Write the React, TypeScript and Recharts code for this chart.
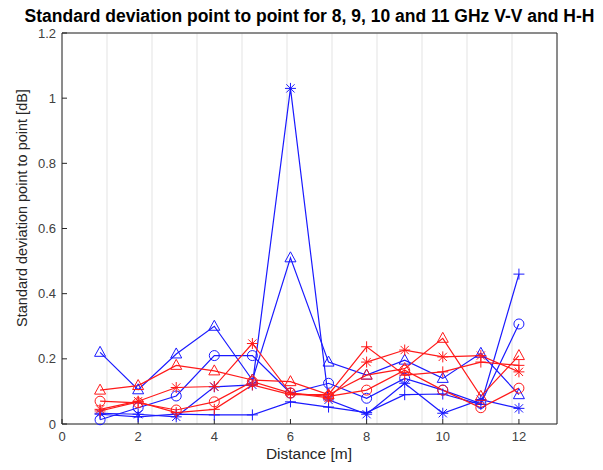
import React from "react"
import { LineChart, Line, XAxis, YAxis, CartesianGrid } from "recharts"

// distance in metres
const distance = [1, 2, 3, 4, 5, 6, 7, 8, 9, 10, 11, 12]

// V-V (blue)
const vvPlus = [0.03, 0.022, 0.03, 0.028, 0.028, 0.068, 0.052, 0.035, 0.09, 0.092, 0.06, 0.46]
const vvCircle = [0.013, 0.05, 0.086, 0.21, 0.21, 0.095, 0.125, 0.079, 0.14, 0.104, 0.063, 0.307]
const vvStar = [0.033, 0.03, 0.022, 0.114, 0.12, 1.03, 0.074, 0.03, 0.125, 0.033, 0.075, 0.048]
const vvTriangle = [0.22, 0.105, 0.215, 0.3, 0.135, 0.51, 0.19, 0.15, 0.196, 0.14, 0.217, 0.09]

// H-H (red)
const hhPlus = [0.04, 0.068, 0.035, 0.045, 0.12, 0.09, 0.09, 0.237, 0.15, 0.16, 0.19, 0.18]
const hhCircle = [0.07, 0.065, 0.043, 0.068, 0.13, 0.095, 0.085, 0.104, 0.165, 0.104, 0.05, 0.11]
const hhStar = [0.045, 0.07, 0.112, 0.115, 0.247, 0.095, 0.08, 0.19, 0.227, 0.206, 0.21, 0.16]
const hhTriangle = [0.104, 0.118, 0.18, 0.163, 0.135, 0.13, 0.09, 0.15, 0.17, 0.263, 0.085, 0.21]

const xTicks = [0, 2, 4, 6, 8, 10, 12]
const yTicks = [0, 0.2, 0.4, 0.6, 0.8, 1, 1.2]

const BLUE = "#1a1aff"
const RED = "#ff1a1a"
const AXIS = "#262626"
const FONT = "'Liberation Sans', Arial, Helvetica, sans-serif"

const data = distance.map((d, i) => ({
  d,
  vvPlus: vvPlus[i],
  vvCircle: vvCircle[i],
  vvStar: vvStar[i],
  vvTriangle: vvTriangle[i],
  hhPlus: hhPlus[i],
  hhCircle: hhCircle[i],
  hhStar: hhStar[i],
  hhTriangle: hhTriangle[i],
}))

const marker = (shape: string, color: string) => (props: any) => {
  const { cx, cy, key } = props
  if (cx == null || cy == null) return <g key={key} />
  const s = 5.5
  if (shape === "circle") {
    return <circle key={key} cx={cx} cy={cy} r={5} fill="none" stroke={color} strokeWidth={1} />
  }
  if (shape === "triangle") {
    const pts = `${cx},${cy - 6} ${cx - 5.5},${cy + 4} ${cx + 5.5},${cy + 4}`
    return <polygon key={key} points={pts} fill="none" stroke={color} strokeWidth={1} />
  }
  if (shape === "plus") {
    return (
      <g key={key} stroke={color} strokeWidth={1}>
        <line x1={cx - s} y1={cy} x2={cx + s} y2={cy} />
        <line x1={cx} y1={cy - s} x2={cx} y2={cy + s} />
      </g>
    )
  }
  const d = s * 0.75
  return (
    <g key={key} stroke={color} strokeWidth={1}>
      <line x1={cx - s} y1={cy} x2={cx + s} y2={cy} />
      <line x1={cx} y1={cy - s} x2={cx} y2={cy + s} />
      <line x1={cx - d} y1={cy - d} x2={cx + d} y2={cy + d} />
      <line x1={cx - d} y1={cy + d} x2={cx + d} y2={cy - d} />
    </g>
  )
}

const series = [
  { key: "vvPlus", color: BLUE, shape: "plus" },
  { key: "vvCircle", color: BLUE, shape: "circle" },
  { key: "vvStar", color: BLUE, shape: "star" },
  { key: "vvTriangle", color: BLUE, shape: "triangle" },
  { key: "hhPlus", color: RED, shape: "plus" },
  { key: "hhCircle", color: RED, shape: "circle" },
  { key: "hhStar", color: RED, shape: "star" },
  { key: "hhTriangle", color: RED, shape: "triangle" },
]

const tickStyle = { fill: "#404040", fontSize: 13, fontFamily: FONT }

export default function App() {
  return (
    <div style={{ position: "relative", width: 595, height: 462, background: "#fff", fontFamily: FONT }}>
      <div
        style={{
          position: "absolute",
          top: -2,
          left: 0,
          width: 603,
          textAlign: "center",
          fontWeight: "bold",
          fontSize: 17.5,
          color: "#000",
        }}
      >
        Standard deviation point to point for 8, 9, 10 and 11 GHz V-V and H-H
      </div>
      <div
        style={{
          position: "absolute",
          left: 14,
          top: 200,
          transform: "translate(-50%, -50%) rotate(-90deg)",
          whiteSpace: "nowrap",
          fontSize: 14.5,
          color: AXIS,
        }}
      >
        Standard deviation point to point [dB]
      </div>
      <div
        style={{
          position: "absolute",
          left: 301,
          top: 446,
          transform: "translate(-50%, -50%)",
          whiteSpace: "nowrap",
          fontSize: 15.5,
          color: AXIS,
        }}
      >
        Distance [m]
      </div>
      <LineChart width={595} height={462} data={data} margin={{ top: 24, right: 45, left: 10, bottom: 16 }}>
        <CartesianGrid stroke="#e3e3e3" strokeWidth={1} />
        <XAxis
          xAxisId="b"
          dataKey="d"
          type="number"
          domain={[0, 13]}
          ticks={xTicks}
          height={30}
          stroke={AXIS}
          tickSize={-5}
          tickMargin={13}
          tick={tickStyle}
          allowDataOverflow
        />
        <XAxis
          xAxisId="t"
          orientation="top"
          dataKey="d"
          type="number"
          domain={[0, 13]}
          ticks={xTicks}
          height={1}
          stroke={AXIS}
          tickSize={-5}
          tick={false}
        />
        <YAxis
          yAxisId="l"
          type="number"
          domain={[0, 1.2]}
          ticks={yTicks}
          width={44}
          stroke={AXIS}
          tickSize={-5}
          tickMargin={11}
          tick={tickStyle}
        />
        <YAxis
          yAxisId="r"
          orientation="right"
          type="number"
          domain={[0, 1.2]}
          ticks={yTicks}
          width={1}
          stroke={AXIS}
          tickSize={-5}
          tick={false}
        />
        {series.map((s) => (
          <Line
            key={s.key}
            xAxisId="b"
            yAxisId="l"
            dataKey={s.key}
            stroke={s.color}
            strokeWidth={1.2}
            dot={marker(s.shape, s.color)}
            activeDot={false}
            isAnimationActive={false}
          />
        ))}
      </LineChart>
    </div>
  )
}
